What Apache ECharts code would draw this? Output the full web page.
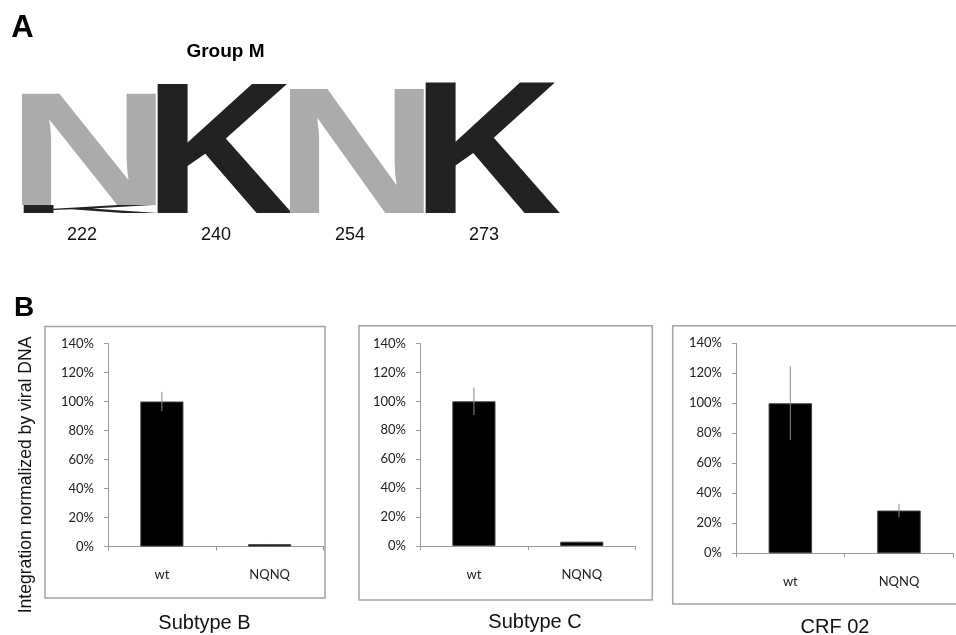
<!DOCTYPE html>
<html>
<head>
<meta charset="utf-8">
<script src="https://cdn.jsdelivr.net/npm/echarts@6/dist/echarts.min.js"></script>
<style>
html,body{margin:0;padding:0;background:#fff;}
#main{width:956px;height:635px;}
</style>
</head>
<body>
<div id="main"></div>
<script>
// ---------- Panel A: sequence logo data ----------
var logoPositions = ['222', '240', '254', '273'];
var logoLetters = ['K', 'N', 'K', 'N', 'K'];
var logoPosIndex = [0, 0, 1, 2, 3];
var logoHeights = [0.06, 0.85, 0.985, 0.947, 1.0];
var logoColors = {N: '#ababab', K: '#222222'};

// ---------- Panel B: bar data ----------
var categories = ['wt', 'NQNQ'];
var panelTitles = ['Subtype B', 'Subtype C', 'CRF 02'];
var subtypeB = [100, 1.6];
var subtypeBErr = [6.7, 0.3];
var subtypeC = [100, 3.0];
var subtypeCErr = [9.5, 0.5];
var crf02 = [100, 28.5];
var crf02Err = [24.5, 4.5];
var yTicksMax = 140, yTicksStep = 20;

var chart = echarts.init(document.getElementById('main'), null, {renderer: 'canvas'});

// stack letters per position
var logoData = [];
var baseByPos = {};
for (var i = 0; i < logoLetters.length; i++) {
  var p = logoPosIndex[i];
  var b = baseByPos[p] || 0;
  logoData.push([p, b, logoHeights[i]]);
  baseByPos[p] = b + logoHeights[i];
}

// glyph ink metrics (per 100px font) used to stretch letters into their cells
var INK_W = {N: 0.58, K: 0.635};
var INK_DX = {N: 0, K: -2};
var CAP = 0.70;
var CAP_DY = 7.4;

var grids = [
  {left: 22, top: 80, width: 536, height: 133},
  {left: 108, top: 343.5, width: 215.5, height: 203},
  {left: 420, top: 343.5, width: 215.7, height: 202.5},
  {left: 736, top: 343.3, width: 217.3, height: 210}
];

var panels = [
  {vals: subtypeB, errs: subtypeBErr},
  {vals: subtypeC, errs: subtypeCErr},
  {vals: crf02, errs: crf02Err}
];

var xAxes = [{
  gridIndex: 0, type: 'category', data: logoPositions,
  axisLine: {show: false}, axisTick: {show: false},
  axisLabel: {fontFamily: 'Liberation Sans', fontSize: 18, color: '#111', margin: 13, padding: [0, 14, 0, 0]}
}];
var yAxes = [{gridIndex: 0, type: 'value', min: 0, max: 1, show: false}];
var series = [{
  type: 'custom', xAxisIndex: 0, yAxisIndex: 0, clip: false,
  data: logoData,
  renderItem: function (params, api) {
    var idx = api.value(0), base = api.value(1), h = api.value(2);
    var p0 = api.coord([idx, base]);
    var p1 = api.coord([idx, base + h]);
    var bw = api.size([1, 0])[0] * 0.985;
    var letter = logoLetters[params.dataIndex];
    var hpx = p0[1] - p1[1];
    var FS = 100;
    return {
      type: 'text',
      x: p0[0], y: (p0[1] + p1[1]) / 2,
      scaleX: bw / (INK_W[letter] * FS),
      scaleY: hpx / (CAP * FS),
      style: {
        text: letter, x: INK_DX[letter], y: CAP_DY,
        font: 'bold 100px "Liberation Sans"',
        fill: logoColors[letter], align: 'center', verticalAlign: 'middle'
      }
    };
  }
}];

panels.forEach(function (pn, k) {
  var gi = k + 1;
  xAxes.push({
    gridIndex: gi, type: 'category', data: categories,
    axisLine: {lineStyle: {color: '#9a9a9a', width: 1}},
    axisTick: {show: true, length: 4, lineStyle: {color: '#9a9a9a'}},
    axisLabel: {fontFamily: 'Lato', fontSize: 13, color: '#222', margin: 22}
  });
  yAxes.push({
    gridIndex: gi, type: 'value', min: 0, max: yTicksMax, interval: yTicksStep,
    axisLine: {show: true, lineStyle: {color: '#9a9a9a', width: 1}},
    axisTick: {show: true, length: 4, lineStyle: {color: '#9a9a9a'}},
    splitLine: {show: false},
    axisLabel: {fontFamily: 'Lato', fontSize: 13, color: '#222', margin: 14, formatter: '{value}%'}
  });
  series.push({
    type: 'bar', xAxisIndex: gi, yAxisIndex: gi, data: pn.vals,
    barWidth: '40%',
    itemStyle: {color: '#000', borderColor: '#3c3c3c', borderWidth: 1}
  });
  var errData = pn.vals.map(function (v, j) { return [j, v - pn.errs[j], v + pn.errs[j]]; });
  series.push({
    type: 'custom', xAxisIndex: gi, yAxisIndex: gi, data: errData, z: 5,
    renderItem: function (params, api) {
      var a = api.coord([api.value(0), api.value(1)]);
      var b = api.coord([api.value(0), api.value(2)]);
      return {type: 'line', shape: {x1: a[0], y1: a[1], x2: b[0], y2: b[1]},
        style: {stroke: '#8a8a8a', lineWidth: 1}};
    }
  });
});

var boxStyle = {fill: 'none', stroke: '#a3a3a3', lineWidth: 1.5};
var graphics = [
  {type: 'rect', shape: {x: 45, y: 326.5, width: 280, height: 271.5}, style: boxStyle, silent: true},
  {type: 'rect', shape: {x: 359, y: 325.7, width: 293.3, height: 274.3}, style: boxStyle, silent: true},
  {type: 'rect', shape: {x: 672.7, y: 325.7, width: 300, height: 278.3}, style: boxStyle, silent: true},
  {type: 'text', x: 22.5, y: 28, style: {text: 'A', font: 'bold 31px "Liberation Sans"', fill: '#000', align: 'center', verticalAlign: 'middle'}},
  {type: 'text', x: 225.5, y: 52, style: {text: 'Group M', font: 'bold 19px "Liberation Sans"', fill: '#000', align: 'center', verticalAlign: 'middle'}},
  {type: 'text', x: 24, y: 308, style: {text: 'B', font: 'bold 28px "Liberation Sans"', fill: '#000', align: 'center', verticalAlign: 'middle'}},
  {type: 'text', x: 26, y: 475, rotation: Math.PI / 2, style: {text: 'Integration normalized by viral DNA', font: '17.6px "Liberation Sans"', fill: '#111', align: 'center', verticalAlign: 'middle'}},
  {type: 'text', x: 204.5, y: 623, style: {text: panelTitles[0], font: '20px "Liberation Sans"', fill: '#111', align: 'center', verticalAlign: 'middle'}},
  {type: 'text', x: 535, y: 622, style: {text: panelTitles[1], font: '20px "Liberation Sans"', fill: '#111', align: 'center', verticalAlign: 'middle'}},
  {type: 'text', x: 835, y: 627, style: {text: panelTitles[2], font: '20px "Liberation Sans"', fill: '#111', align: 'center', verticalAlign: 'middle'}}
];

chart.setOption({
  backgroundColor: '#fff',
  animation: false,
  grid: grids,
  xAxis: xAxes,
  yAxis: yAxes,
  series: series,
  graphic: graphics
});
</script>
</body>
</html>
